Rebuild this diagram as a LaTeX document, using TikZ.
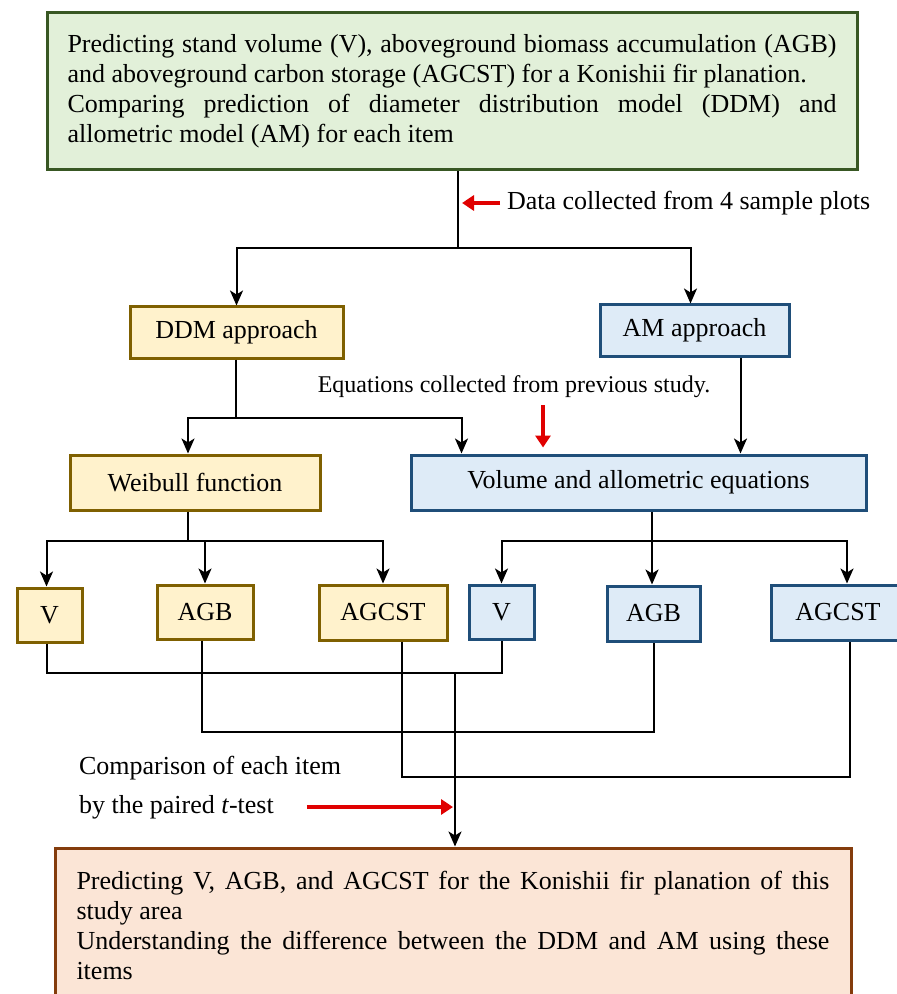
\documentclass[tikz,border=0pt]{standalone}
\usepackage{fontspec}
\setmainfont{Liberation Serif}
\usepackage{tikz}
\usetikzlibrary{arrows.meta, positioning, calc}

\definecolor{topfill}{HTML}{E2F0D9}
\definecolor{topline}{HTML}{385723}
\definecolor{ddmfill}{HTML}{FFF2CC}
\definecolor{ddmline}{HTML}{7F6000}
\definecolor{amfill}{HTML}{DEEBF7}
\definecolor{amline}{HTML}{1F4E79}
\definecolor{resfill}{HTML}{FBE5D6}
\definecolor{resline}{HTML}{843C0C}
\definecolor{arrred}{HTML}{E00000}

\begin{document}
\begin{tikzpicture}[x=0.5pt, y=-0.5pt,
    font=\fontsize{13}{15}\selectfont,
    box/.style={draw, line width=1.5pt, inner sep=0pt, align=center},
    ddmbox/.style={box, fill=ddmfill, draw=ddmline},
    ambox/.style={box, fill=amfill, draw=amline},
    arr/.style={line width=1pt, -{Stealth[length=7.5pt, width=6.5pt, inset=2pt]}},
    link/.style={line width=1pt},
    redarr/.style={draw=arrred, line width=1.6pt, -{Triangle[length=6pt, width=7.5pt]}}]
    \useasboundingbox (0,0) rectangle (897,994);

    % Aim box
    \node[box, fill=topfill, draw=topline, minimum width=405pt, minimum height=78.5pt,
          text width=384.5pt, align=justify] (aim) at (452,91.5)
        {Predicting stand volume (V), aboveground biomass accumulation (AGB)
         and aboveground carbon storage (AGCST) for a Konishii fir planation.\\
         Comparing prediction of diameter distribution model (DDM) and\linebreak
         allometric model (AM) for each item};

    % Approaches
    \node[ddmbox, minimum width=106.5pt, minimum height=25.5pt] (ddm) at (236.5,332.5) {DDM approach};
    \node[ambox, minimum width=94.5pt, minimum height=25.5pt] (am) at (694.5,330.5) {AM approach};

    % Methods
    \node[ddmbox, minimum width=125pt, minimum height=27.5pt] (weib) at (195,482.5) {Weibull function};
    \node[ambox, minimum width=227.5pt, minimum height=27.5pt] (eqs) at (638.5,482.5) {Volume and allometric equations};

    % Items
    \node[ddmbox, minimum width=32.5pt, minimum height=27pt] (v1) at (49.5,615) {V};
    \node[ddmbox, minimum width=48pt, minimum height=27pt] (agb1) at (205,612) {AGB};
    \node[ddmbox, minimum width=64pt, minimum height=27.5pt] (agcst1) at (383,612.5) {AGCST};
    \node[ambox, minimum width=32.5pt, minimum height=27pt] (v2) at (501.5,612) {V};
    \node[ambox, minimum width=46.5pt, minimum height=27.5pt] (agb2) at (653.5,613.5) {AGB};
    \node[ambox, minimum width=67pt, minimum height=27.5pt] (agcst2) at (838,612.5) {AGCST};

    % Result box
    \node[box, fill=resfill, draw=resline, minimum width=398pt, minimum height=77pt,
          text width=376.5pt, align=justify] (res) at (453,925)
        {Predicting V, AGB, and AGCST for the Konishii fir planation of this
         study area\\
         Understanding the difference between the DDM and AM using these
         items};

    % Notes
    \node[anchor=west] (datanote) at (500,203) {Data collected from 4 sample plots};
    \node[font=\fontsize{12}{13}\selectfont] (eqnote) at (514,387) {Equations collected from previous study.};
    \node[anchor=west] (cmpnote) at (72,768) {Comparison of each item};
    \node[anchor=west] (ttnote) at (72,807) {by the paired \textit{t}-test};

    % Split points
    \coordinate (s1) at (458,248);
    \coordinate (s2) at (236,418);
    \coordinate (s3) at (188,541);
    \coordinate (s4) at (652,541);
    \coordinate (vjoin) at (455,673);
    \coordinate (eqx) at (543,0);

    % Connectors
    \draw[link] (aim.south -| s1) -- (s1);
    \draw[arr] (s1) -| (ddm.north);
    \draw[arr] (s1) -| ([xshift=-2pt]am.north);
    \draw[link] (ddm.south -| s2) -- (s2);
    \draw[arr] (s2) -| ([xshift=-3.5pt]weib.north);
    \draw[arr] (s2) -| ([xshift=26pt]eqs.north west);
    \draw[arr] ([xshift=23pt]am.south) -- ([xshift=23pt]am.south |- eqs.north);
    \draw[link] (weib.south -| s3) -- (s3);
    \draw[arr] (s3) -| ([xshift=-1.5pt]v1.north);
    \draw[arr] (s3) -| (agb1.north);
    \draw[arr] (s3) -| (agcst1.north);
    \draw[arr] (eqs.south -| s4) -- (agb2.north -| s4);
    \draw[arr] (s4) -| (v2.north);
    \draw[arr] (s4) -| ([xshift=4.5pt]agcst2.north);

    % Pairing of items
    \draw[link] ([xshift=-1.5pt]v1.south) |- (vjoin) -| (v2.south);
    \draw[link] ([xshift=-1.5pt]agb1.south) |- (650,732) -| (agb2.south);
    \draw[link] ([xshift=9.5pt]agcst1.south) |- (700,777) -| ([xshift=6pt]agcst2.south);
    \draw[arr] (vjoin) -- (vjoin |- res.north);

    % Red arrows
    \draw[redarr] (datanote.west) -- ([xshift=2pt]datanote.west -| s1);
    \draw[redarr] (eqnote.south -| eqx) -- ([yshift=3pt]eqs.north -| eqx);
    \draw[redarr, shorten >=1pt] ([xshift=13pt]ttnote.east) -- (ttnote.east -| vjoin);
\end{tikzpicture}
\end{document}
